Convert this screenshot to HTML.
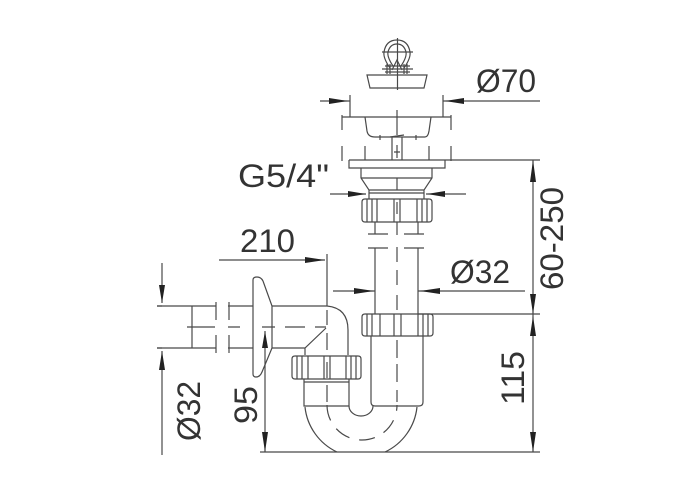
<!DOCTYPE html>
<html><head><meta charset="utf-8"><style>html,body{margin:0;padding:0;background:#fff}svg{display:block}text{font-family:"Liberation Sans",sans-serif;fill:#333;font-size:32px}</style></head><body>
<svg width="700" height="500" viewBox="0 0 700 500" xmlns="http://www.w3.org/2000/svg">
<defs><filter id="b"><feGaussianBlur stdDeviation="0.35"/></filter></defs>
<g fill="none" stroke="#4a4a4a" stroke-width="1.2" filter="url(#b)">
<!-- plug -->
<path d="M390 68Q383 58 384 52Q386 40 397 40Q408 40 410 52Q411 58 404 68"/>
<path d="M393 66Q387 57 388 52Q390 44 397 44Q404 44 406 52Q407 57 401 66"/>
<path d="M382 69H413M385 66H410M385 72H410M387 64V74M390 64V74M404 64V74M407 64V74M392 70L397 60L402 70"/>
<path d="M367 75H427L424 88H370Z"/>
<path d="M397.500 38V90M382 52H413"/>
<!-- strainer -->
<path d="M350 95V117H443M443 95V117M342 117H350M443 117H451"/>
<path d="M365 117L367 131Q368 137 375 137H425Q428 137 429 131L431 117"/>
<path d="M342 115V130M342 146V161M451 115V130M451 146V161"/>
<path d="M365 146V160M429 146V160"/>
<path d="M392 137V160M402 137V160M394 152H400M397 110V135M397 145V158M380 135V140M416 135V140M390 137L404 135"/>
<path d="M349 160V168H445V160M349 160H540"/>
<path d="M361 168V178L369 190V199M432 168V178L424 190V199M361 178H432M369 190H424M369 193H424"/>
<!-- top nut -->
<path d="M365 199H429Q432 199 432 202V219Q432 222 429 222H365Q362 222 362 219V202Q362 199 365 199Z"/>
<path d="M367 199V222M372 199V222M377 199V222M394 199V222M400 199V222M417 199V222M422 199V222M427 199V222"/>
<path d="M375 222V234M418 222V234M368 234H388M404 234H424M368 248H388M404 248H424M375 248V314M418 248V314"/>
<path d="M397 178V190M397 202V214M397 222V235M397 247V262M397 270V285M397 295V310"/>
<!-- lower right nut -->
<path d="M365 314H430Q433 314 433 317V333Q433 336 430 336H365Q362 336 362 333V317Q362 314 365 314Z"/>
<path d="M367 314V336M372 314V336M380 314V336M394 314V336M401 314V336M418 314V336M423 314V336M428 314V336"/>
<path d="M371 336V402Q371 406 375 406H419Q423 406 423 402V336"/>
<path d="M397 340V358M397 364V382M397 390V402"/>
<!-- left pipe -->
<path d="M157 306H216M157 348H216M228 306H253M228 348H253M192 306V348"/>
<path d="M216 302V320M216 335V353M229 302V320M229 335V353"/>
<path d="M187 327H215M228 327H240M262 327H275M285 327H305M315 327H326"/>
<path d="M253 280Q253 277 257 277Q261 277 263 281L272 306V348L262 372Q260 377 256 377Q253 377 253 374Z"/>
<path d="M272 306H327Q348 308 348 330V355M272 348H305L326 328M305 348V355"/>
<path d="M327 254V306M327 310V325M327 333V350M327 362V378M327 385V402"/>
<!-- left nut -->
<path d="M295 356H358Q361 356 361 359V376Q361 379 358 379H295Q292 379 292 376V359Q292 356 295 356Z"/>
<path d="M297 356V379M302 356V379M308 356V379M324 356V379M330 356V379M346 356V379M351 356V379M356 356V379"/>
<path d="M304 379V406H349V379M304 382H349"/>
<!-- U bend -->
<path d="M305 407A56.300 56.300 0 0 0 337 452M417 407A56.300 56.300 0 0 1 385 452M349 406A12 10 0 0 0 373 406"/>
<path stroke-dasharray="16 10" d="M327 405A35 35 0 0 0 397 405"/>
<!-- dims -->
<path d="M320 101H350M443 101H540"/>
<path d="M330 194H366M426 194H466M333 291H375M418 291H525"/>
<path d="M219 260H325"/>
<path d="M533 160V452M418 314H540M260 452H540"/>
<path d="M265 331V452"/>
<path d="M162 263V303M162 351V455M157 306H162M157 348H162"/>
</g>
<g fill="#222" stroke="none">
<path d="M348 101L329 98V104ZM445 101L464 98V104Z"/>
<path d="M366 194L348 191V197ZM427 194L445 191V197Z"/>
<path d="M374 291L354 288V294ZM420 291L440 288V294Z"/>
<path d="M325 260L305 257V263Z"/>
<path d="M533 160L530 182H536ZM533 314L530 294H536Z"/>
<path d="M533 316L530 336H536ZM533 452L530 432H536Z"/>
<path d="M265 331L262 348H268ZM265 452L262 432H268Z"/>
<path d="M162 303L159 285H165ZM162 351L159 370H165Z"/>
</g>
<text x="476" y="92" textLength="60" lengthAdjust="spacingAndGlyphs">Ø70</text>
<text x="238" y="187" textLength="91" lengthAdjust="spacingAndGlyphs">G5/4"</text>
<text x="240" y="252" textLength="55" lengthAdjust="spacingAndGlyphs">210</text>
<text x="450" y="283" textLength="60" lengthAdjust="spacingAndGlyphs">Ø32</text>
<text transform="translate(563 290) rotate(-90)" textLength="103" lengthAdjust="spacingAndGlyphs">60-250</text>
<text transform="translate(524 405) rotate(-90)" textLength="54" lengthAdjust="spacingAndGlyphs">115</text>
<text transform="translate(257 424) rotate(-90)" textLength="38" lengthAdjust="spacingAndGlyphs">95</text>
<text transform="translate(200 441) rotate(-90)" textLength="60" lengthAdjust="spacingAndGlyphs">Ø32</text>
</svg>
</body></html>
